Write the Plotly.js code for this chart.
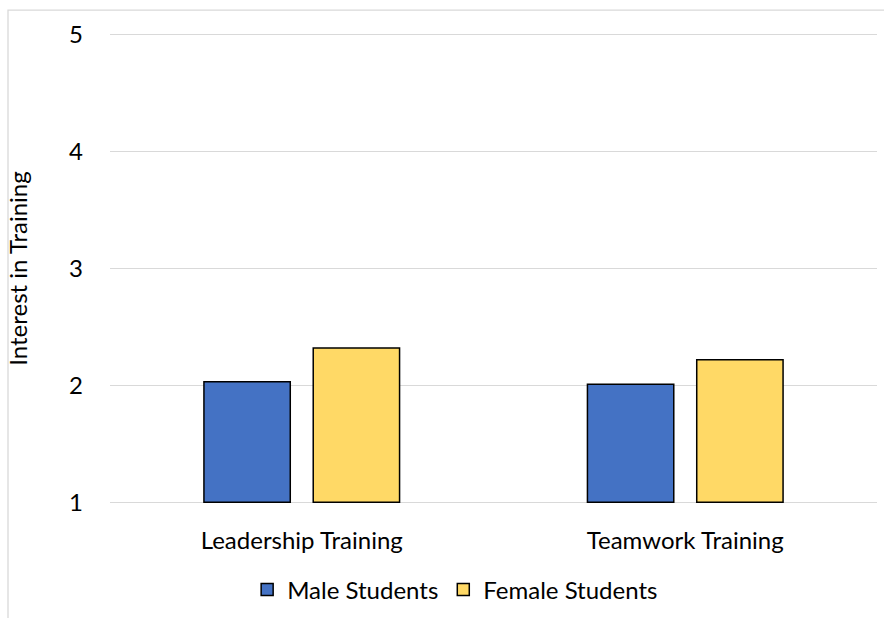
<!DOCTYPE html>
<html>
<head>
<meta charset="utf-8">
<script src="https://cdn.plot.ly/plotly-3.0.1.min.js"></script>
<style>
html,body{margin:0;padding:0;background:#fff;}
#chart{width:884px;height:618px;}
</style>
</head>
<body>
<div id="chart"></div>
<script>
const categories = ["Leadership Training", "Teamwork Training"];
const maleValues = [2.03, 2.01];
const femaleValues = [2.32, 2.22];
const seriesNames = ["Male Students", "Female Students"];
const yTicks = [1, 2, 3, 4, 5];

const FONT = "Lato, 'Liberation Sans', sans-serif";
const FS = 24;

const traces = [
  {
    type: "bar", name: seriesNames[0], x: categories, y: maleValues.map(v => v - 1), base: 1,
    marker: {color: "#4472C4", line: {color: "#000", width: 1.5}},
    hoverinfo: "skip"
  },
  {
    type: "bar", name: seriesNames[1], x: categories, y: femaleValues.map(v => v - 1), base: 1,
    marker: {color: "#FFD966", line: {color: "#000", width: 1.5}},
    hoverinfo: "skip"
  }
];

const layout = {
  width: 884, height: 618,
  margin: {l: 110, r: 7, t: 33, b: 113},
  paper_bgcolor: "#fff", plot_bgcolor: "#fff",
  font: {family: FONT, size: FS, color: "#000"},
  barmode: "group",
  bargap: 0.43,
  bargroupgap: 0.21,
  xaxis: {
    type: "category",
    showgrid: false, zeroline: false, showline: false,
    ticks: "", ticklabelstandoff: 20,
    tickfont: {family: FONT, size: FS, color: "#000"},
    automargin: false
  },
  yaxis: {
    range: [0.985, 5.015], tickvals: yTicks, ticktext: yTicks.map(String),
    showgrid: true, gridcolor: "#d9d9d9", gridwidth: 1.3,
    zeroline: false, showline: false, ticks: "",
    ticklabelstandoff: 26,
    tickfont: {family: FONT, size: FS, color: "#000"},
    title: {text: "Interest in Training", font: {family: FONT, size: FS, color: "#000"}, standoff: 34},
    automargin: false
  },
  legend: {
    orientation: "h", x: 0.45, xanchor: "center", y: -0.18, yanchor: "middle",
    font: {family: FONT, size: FS, color: "#000"},
    itemwidth: 30, traceorder: "normal"
  },
  showlegend: true,
  shapes: [
    {type: "rect", xref: "paper", yref: "paper",
     x0: (8 - 110) / 767, x1: 1.05, y0: -0.3, y1: (505 - 10) / 472,
     line: {color: "#d9d9d9", width: 1.3}, fillcolor: "rgba(0,0,0,0)", layer: "below"}
  ]
};

Plotly.newPlot("chart", traces, layout, {displayModeBar: false, staticPlot: true});
</script>
</body>
</html>
